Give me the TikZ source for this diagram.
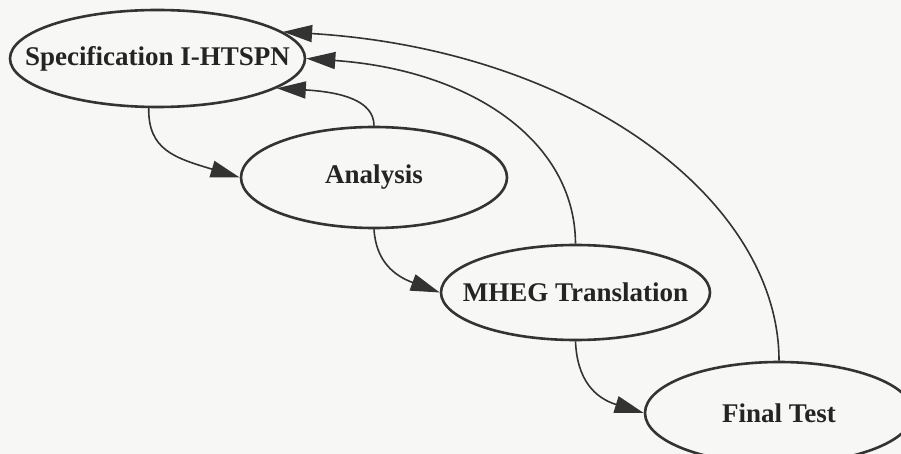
\documentclass[tikz,border=0pt]{standalone}
\usepackage{fontspec}
\setmainfont{Liberation Serif}
\usetikzlibrary{shapes.geometric,arrows.meta}
\definecolor{paper}{HTML}{F7F7F5}
\definecolor{ink}{HTML}{333333}
% zero-width label so the ellipse size comes only from the minimum dimensions
\newcommand{\phaselabel}[1]{\makebox[0pt][c]{#1}}
\tikzset{
  phase/.style={ellipse, draw=ink, line width=2.6pt, inner sep=0pt,
    font=\fontsize{27}{30}\selectfont\bfseries, text=ink!70!black},
  flow/.style={draw=ink, line width=1.6pt,
    -{Triangle[length=29pt,width=17pt]}}
}
\begin{document}
\begin{tikzpicture}[x=1pt,y=-1pt]
  \path[use as bounding box, fill=paper] (0,0) rectangle (901,454);
  \clip (0,0) rectangle (901,454);

  \node[phase, minimum width=295pt, minimum height=97pt] (spec) at (157.5,58.5) {\phaselabel{Specification I-HTSPN}};
  \node[phase, minimum width=266pt, minimum height=101pt] (ana) at (374,177.5) {\phaselabel{Analysis}};
  \node[phase, minimum width=269pt, minimum height=95pt] (mheg) at (575.5,292.5) {\phaselabel{MHEG Translation}};
  \node[phase, minimum width=268pt, minimum height=102pt] (final) at (779,413) {\phaselabel{Final Test}};

  % forward steps
  \draw[flow] (spec.260) .. controls (148,150) and (175,158) .. (ana.west);
  \draw[flow] (ana.south) .. controls (376,262) and (395,276) .. (mheg.west);
  \draw[flow] (mheg.south) .. controls (577,380) and (595,398) .. (final.west);

  % feedback to the specification
  \draw[flow] (ana.north) .. controls (374,100) and (340,92) .. (spec.-14);
  \draw[flow] (mheg.north) .. controls (575,140) and (470,70) .. (spec.east);
  \draw[flow] (final.north) .. controls (779,200) and (580,50) .. (spec.12);
\end{tikzpicture}
\end{document}
